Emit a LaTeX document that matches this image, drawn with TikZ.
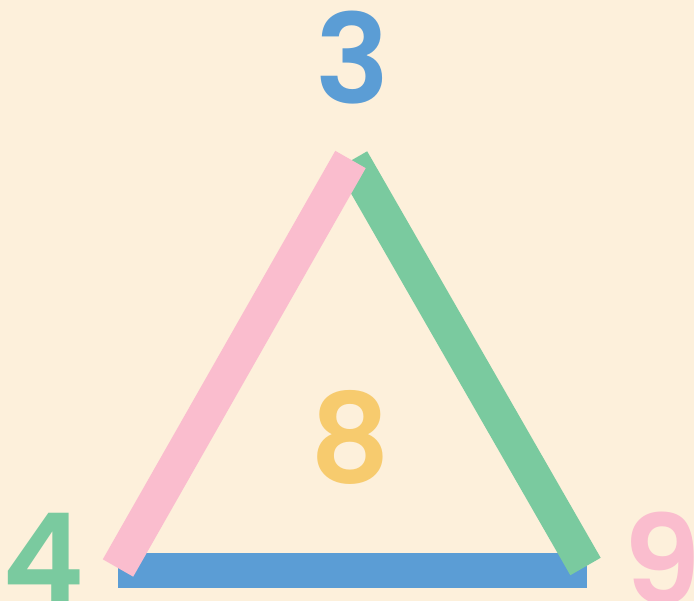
\documentclass[tikz,border=0pt]{standalone}
\usepackage{fontspec}
\setmainfont{Poppins}[BoldFont={Poppins SemiBold}]
\usepackage{tikz}
\usetikzlibrary{positioning, calc}
\definecolor{mycream}{RGB}{253,240,219}
\definecolor{myblue}{RGB}{91,157,213}
\definecolor{mypink}{RGB}{250,189,206}
\definecolor{mygreen}{RGB}{122,202,159}
\definecolor{myyellow}{RGB}{247,203,110}
\tikzset{
  digit/.style={inner sep=0pt, outer sep=0pt,
    font=\fontsize{124}{124}\selectfont\bfseries},
  bar/.style={line width=35pt, line cap=butt}
}

\begin{document}
\begin{tikzpicture}[x=1pt, y=-1pt]

  % Background
  \fill[mycream] (0,0) rectangle (694,601);
  \useasboundingbox (0,0) rectangle (694,601);
  \clip (0,0) rectangle (694,601);

  % Corners
  \coordinate (blueL) at (118,570.5);
  \coordinate (blueR) at (587,570.5);
  \coordinate (greenT) at (352,160);
  \coordinate (greenB) at (585.5,566.5);
  \coordinate (pinkT) at (350.5,159.5);
  \coordinate (pinkB) at (118,568);

  % Sides
  \draw[bar, myblue] (blueL) -- (blueR);
  \draw[bar, mygreen] (greenB) -- (greenT);
  \draw[bar, mypink] (pinkB) -- (pinkT);

  % Nodes
  \node[digit, text=myblue] (top) at (353,58) {3};
  \node[digit, text=myyellow] (mid) at (350,437) {8};
  \node[digit, text=mygreen] (lft) at (43,558) {4};
  \node[digit, text=mypink] (rgt) at (662,558) {9};
\end{tikzpicture}
\end{document}
